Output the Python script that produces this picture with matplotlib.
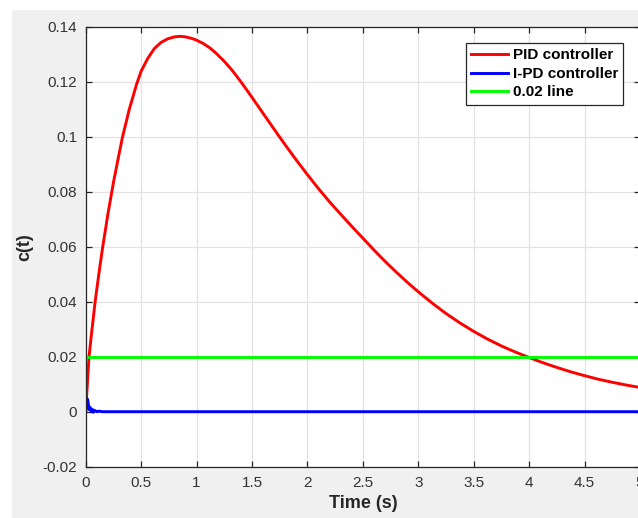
import matplotlib
matplotlib.use("Agg")
import matplotlib.pyplot as plt
from matplotlib.patches import Rectangle
from matplotlib.ticker import FuncFormatter, MultipleLocator

plt.rcParams.update({
    "font.family": ["Liberation Sans", "DejaVu Sans"],
    "font.size": 11,
    "axes.edgecolor": "#262626",
    "axes.linewidth": 0.9,
    "xtick.color": "#262626",
    "ytick.color": "#262626",
    "xtick.direction": "in",
    "ytick.direction": "in",
})

# PID controller response
t_pid = [0, 0.01, 0.02, 0.03, 0.05, 0.085, 0.12, 0.15, 0.2, 0.25, 0.3, 0.33,
         0.39, 0.46, 0.5, 0.56, 0.62, 0.68, 0.74, 0.8, 0.85, 0.9, 0.96, 1.0,
         1.06, 1.12, 1.18, 1.25, 1.32, 1.39, 1.46, 1.5, 1.6, 1.7, 1.8, 1.9,
         2.0, 2.1, 2.2, 2.3, 2.4, 2.5, 2.6, 2.7, 2.8, 2.9, 3.0, 3.125, 3.25,
         3.375, 3.5, 3.625, 3.75, 3.875, 4.0, 4.125, 4.25, 4.375, 4.5, 4.625,
         4.75, 4.875, 5.0]
c_pid = [0, 0.0068, 0.0135, 0.02, 0.0275, 0.04, 0.0505, 0.059, 0.0718, 0.0833,
         0.0935, 0.0995, 0.1095, 0.1192, 0.1238, 0.1285, 0.1321, 0.1343, 0.1356,
         0.1363, 0.1365, 0.1363, 0.1357, 0.1351, 0.1339, 0.1323, 0.1302, 0.1274,
         0.1242, 0.1205, 0.1166, 0.1143, 0.1085, 0.1027, 0.097, 0.0915, 0.0862,
         0.0811, 0.0763, 0.0718, 0.0674, 0.0631, 0.0588, 0.0547, 0.0508, 0.0471,
         0.0436, 0.0395, 0.0357, 0.0323, 0.0292, 0.0264, 0.0239, 0.0217, 0.0197,
         0.0178, 0.0161, 0.0145, 0.0131, 0.0118, 0.0107, 0.0097, 0.0088]

# I-PD controller response (small spike then settles at zero)
t_ipd = [0, 0.01, 0.02, 0.03, 0.04, 0.05, 0.06, 0.07, 0.08, 0.1, 0.12, 0.15, 5.0]
c_ipd = [0, 0.0049, 0.004, 0.0008, 0.0016, 0.0, 0.0009, -0.0002, 0.0005,
         0.0, 0.0002, 0.0, 0.0]

# reference line
t_ref = [0, 5.0]
c_ref = [0.02, 0.02]

fig = plt.figure(figsize=(6.38, 5.18), dpi=100, facecolor="white")
# grey MATLAB figure area, with a thin white margin left and top
fig.add_artist(Rectangle((12 / 638, 0), 1, 508 / 518, transform=fig.transFigure,
                         facecolor="#f0f0f0", edgecolor="none", zorder=-1))

ax = fig.add_axes([85.7 / 638, 51.3 / 518, 554.3 / 638, 440 / 518])
ax.set_facecolor("white")

ax.plot(t_pid, c_pid, color="#ff0000", linewidth=2.1, label="PID controller",
        solid_joinstyle="round")
ax.plot(t_ipd, c_ipd, color="#0000ff", linewidth=2.1, label="I-PD controller",
        solid_joinstyle="round")
ax.plot(t_ref, c_ref, color="#00ff00", linewidth=2.1, label="0.02 line")

ax.set_xlim(0, 5)
ax.set_ylim(-0.02, 0.14)
ax.xaxis.set_major_locator(MultipleLocator(0.5))
ax.yaxis.set_major_locator(MultipleLocator(0.02))
fmt = FuncFormatter(lambda v, p: "%g" % round(v, 4))
ax.xaxis.set_major_formatter(fmt)
ax.yaxis.set_major_formatter(fmt)
ax.tick_params(top=True, right=True, length=4, width=0.9, labelsize=11,
               labelcolor="#333333")
ax.tick_params(axis="x", pad=7)
ax.tick_params(axis="y", pad=6)
ax.grid(True, color="#e3e3e3", linewidth=0.9)
ax.set_axisbelow(True)

ax.set_xlabel("Time (s)", fontsize=13, fontweight="bold", labelpad=3,
              color="#262626")
ax.set_ylabel("c(t)", fontsize=13, fontweight="bold", labelpad=7,
              color="#262626")

leg = ax.legend(loc="upper right", bbox_to_anchor=(0.9693, 0.9623),
                borderaxespad=0, fancybox=False, framealpha=1,
                edgecolor="#262626", handlelength=2.45, handletextpad=0.29,
                labelspacing=0.3, borderpad=0.33,
                prop={"weight": "bold", "size": 11})
leg.get_frame().set_linewidth(0.9)

fig.savefig("out.png", dpi=100)
